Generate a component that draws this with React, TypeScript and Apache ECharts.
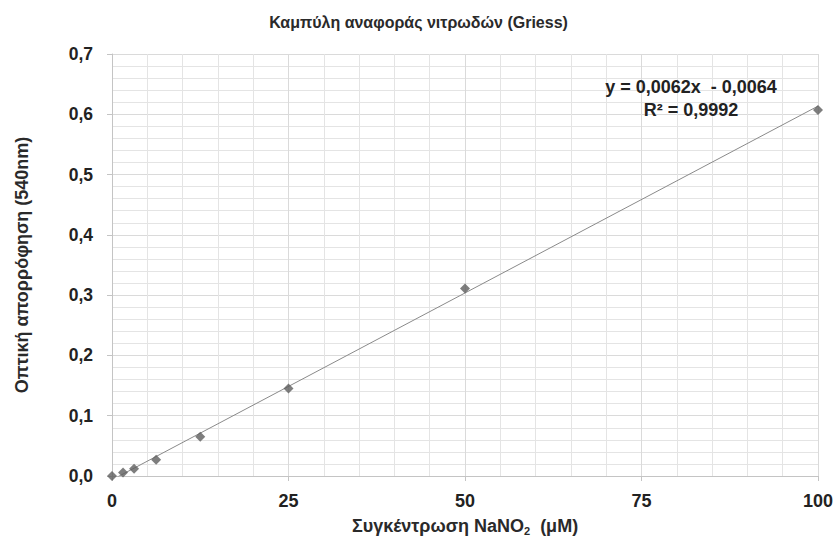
import React, { useEffect, useRef } from "react";
import * as echarts from "echarts";

const concentrations = [0, 1.5625, 3.125, 6.25, 12.5, 25, 50, 100];
const absorbance = [0.0, 0.006, 0.012, 0.027, 0.065, 0.145, 0.311, 0.607];
const slope = 0.0062;
const intercept = -0.0064;
const equationLines = ["y = 0,0062x  - 0,0064", "R² = 0,9992"];
const titleText = "Καμπύλη αναφοράς νιτρωδών (Griess)";
const yAxisName = "Οπτική απορρόφηση (540nm)";
const xAxisName = "Συγκέντρωση NaNO{sub|2}  (μM)";

const FONT = "'Liberation Sans', Arial, sans-serif";

export default function App() {
  const ref = useRef<HTMLDivElement>(null);
  useEffect(() => {
    if (!ref.current) return;
    const chart = echarts.init(ref.current, undefined, { renderer: "svg" });
    const xMin = concentrations[0];
    const xMax = concentrations[concentrations.length - 1];
    const trend = [
      [xMin, slope * xMin + intercept],
      [xMax, slope * xMax + intercept],
    ];
    chart.setOption({
      animation: false,
      backgroundColor: "#ffffff",
      title: {
        text: titleText,
        left: "center",
        top: 9,
        textStyle: { fontFamily: FONT, fontSize: 16, fontWeight: "bold", color: "#2a2a2a" },
      },
      grid: { left: 112, right: 19, top: 54, bottom: 67, containLabel: false },
      xAxis: {
        type: "value",
        min: 0,
        max: 100,
        interval: 25,
        name: xAxisName,
        nameLocation: "middle",
        nameGap: 40,
        nameTextStyle: {
          fontFamily: FONT,
          fontSize: 18,
          fontWeight: "bold",
          color: "#2a2a2a",
          rich: {
            sub: { fontFamily: FONT, fontSize: 11, fontWeight: "bold", color: "#2a2a2a", verticalAlign: "bottom", padding: [9, 0, 0, 0] },
          },
        },
        axisLine: { show: true, lineStyle: { color: "#c4c4c4", width: 1 } },
        axisTick: { show: true, length: 5, lineStyle: { color: "#c4c4c4" } },
        axisLabel: { fontFamily: FONT, fontSize: 18, fontWeight: "bold", color: "#222", margin: 16 },
        splitLine: { show: true, lineStyle: { color: "#dadada", width: 1 } },
        minorTick: { show: false, splitNumber: 5 },
        minorSplitLine: { show: true, lineStyle: { color: "#e4e4e4", width: 1 } },
      },
      yAxis: {
        type: "value",
        min: 0,
        max: 0.7,
        interval: 0.1,
        name: yAxisName,
        nameLocation: "middle",
        nameGap: 81,
        nameRotate: 90,
        nameTextStyle: { fontFamily: FONT, fontSize: 18, fontWeight: "bold", color: "#2a2a2a" },
        axisLine: { show: true, lineStyle: { color: "#c4c4c4", width: 1 } },
        axisTick: { show: true, length: 5, lineStyle: { color: "#c4c4c4" } },
        axisLabel: {
          fontFamily: FONT,
          fontSize: 17.5,
          fontWeight: "bold",
          color: "#222",
          margin: 19,
          formatter: (v: number) => v.toFixed(1).replace(".", ","),
        },
        splitLine: { show: true, lineStyle: { color: "#dadada", width: 1 } },
        minorTick: { show: false, splitNumber: 5 },
        minorSplitLine: { show: true, lineStyle: { color: "#e4e4e4", width: 1 } },
      },
      graphic: [
        {
          type: "text",
          x: 691,
          y: 75,
          z: 100,
          zlevel: 0,
          style: {
            text: equationLines.join("\n"),
            fontFamily: FONT,
            fontSize: 18,
            fontWeight: "bold",
            fill: "#222",
            align: "center",
            lineHeight: 23,
          },
        },
      ],
      series: [
        {
          type: "line",
          data: trend,
          symbol: "none",
          lineStyle: { color: "#8a8a8a", width: 1 },
          silent: true,
          z: 2,
        },
        {
          type: "scatter",
          data: concentrations.map((c, i) => [c, absorbance[i]]),
          symbol: "diamond",
          symbolSize: 10,
          itemStyle: { color: "#5e5e5e" },
          z: 3,
        },
      ],
    });
    return () => chart.dispose();
  }, []);
  return <div ref={ref} style={{ width: 837, height: 543, position: "absolute", left: 0, top: 0 }} />;
}
